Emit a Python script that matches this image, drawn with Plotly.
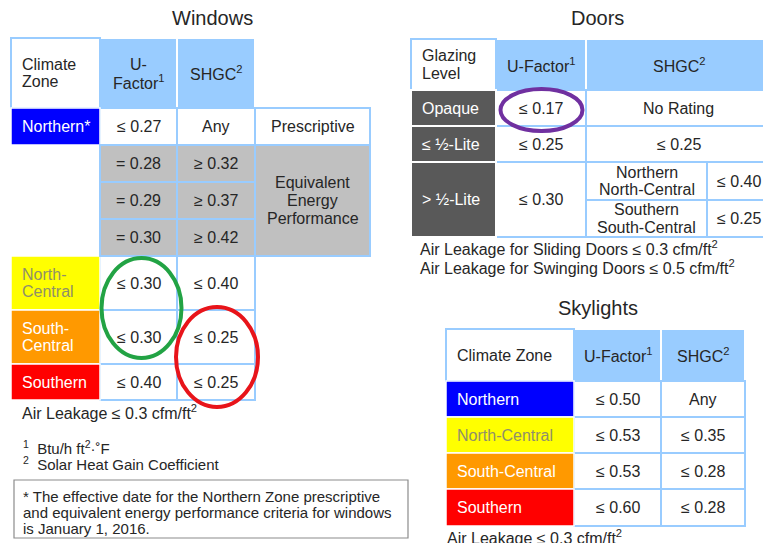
import plotly.graph_objects as go

# ---------------- data ----------------
WINDOW_TITLE = "Windows"
WINDOW_HEADERS = ["Climate<br>Zone", "U-<br>Factor<sup>1</sup>", "SHGC<sup>2</sup>"]
WINDOW_ZONES = ["Northern*", "North-<br>Central", "South-<br>Central", "Southern"]
WINDOW_U = ["≤ 0.27", "≤ 0.30", "≤ 0.30", "≤ 0.40"]
WINDOW_SHGC = ["Any", "≤ 0.40", "≤ 0.25", "≤ 0.25"]
WINDOW_PATHS = ["Prescriptive", "Equivalent<br>Energy<br>Performance"]
WINDOW_EQ_U = ["= 0.28", "= 0.29", "= 0.30"]
WINDOW_EQ_SHGC = ["≥ 0.32", "≥ 0.37", "≥ 0.42"]
WINDOW_NOTES = ["Air Leakage ≤ 0.3 cfm/ft<sup>2</sup>"]
FOOTNOTES = ["<sup>1</sup>  Btu/h ft<sup>2</sup>·˚F", "<sup>2</sup>  Solar Heat Gain Coefficient"]
BOX_NOTE = ["* The effective date for the Northern Zone prescriptive",
            "and equivalent energy performance criteria for windows",
            "is January 1, 2016."]

DOOR_TITLE = "Doors"
DOOR_HEADERS = ["Glazing<br>Level", "U-Factor<sup>1</sup>", "SHGC<sup>2</sup>"]
DOOR_LEVELS = ["Opaque", "≤ ½-Lite", "> ½-Lite"]
DOOR_U = ["≤ 0.17", "≤ 0.25", "≤ 0.30"]
DOOR_SHGC = ["No Rating", "≤ 0.25"]
DOOR_SPLIT_ZONES = ["Northern<br>North-Central", "Southern<br>South-Central"]
DOOR_SPLIT_SHGC = ["≤ 0.40", "≤ 0.25"]
DOOR_NOTES = ["Air Leakage for Sliding Doors ≤ 0.3 cfm/ft<sup>2</sup>",
              "Air Leakage for Swinging Doors ≤ 0.5 cfm/ft<sup>2</sup>"]

SKY_TITLE = "Skylights"
SKY_HEADERS = ["Climate Zone", "U-Factor<sup>1</sup>", "SHGC<sup>2</sup>"]
SKY_ZONES = ["Northern", "North-Central", "South-Central", "Southern"]
SKY_U = ["≤ 0.50", "≤ 0.53", "≤ 0.53", "≤ 0.60"]
SKY_SHGC = ["Any", "≤ 0.35", "≤ 0.28", "≤ 0.28"]
SKY_NOTES = ["Air Leakage ≤ 0.3 cfm/ft<sup>2</sup>"]

# ---------------- styles / layout ----------------
FONT = "Liberation Sans, Arial, sans-serif"
TXT = "#262626"
BORDER = "#99CCFF"
HEAD = "#99CCFF"
GRAY = "#C0C0C0"
DARK = "#595959"
ZONE_FILL = ["#0000FF", "#FFFF00", "#FF9900", "#FF0000"]
ZONE_TXT = ["white", "#8f8f6a", "white", "white"]

W_X = [11, 100, 177, 255, 370]
W_Y = [38, 108, 145, 182, 219, 256, 310, 364, 400]
D_X = [411, 496, 586, 707, 771]
D_Y = [39, 90, 126, 162, 200, 237]
S_X = [446, 574, 661, 745]
S_Y = [329, 381, 417, 453, 489, 526]
NOTE_BOX = [14, 408, 480, 538]

# the page has an 8px body margin: map axis units straight to window pixels
OFF = 8
W, H = 771, 543
fig = go.Figure()
fig.add_trace(go.Scatter(x=[OFF, W], y=[OFF, H], mode="markers",
                         marker=dict(opacity=0), hoverinfo="skip", showlegend=False))
shapes, annots = [], []


def text(x, y, s, size=16, color=TXT, xanchor="center"):
    annots.append(dict(x=x, y=y, xref="x", yref="y", text=s, showarrow=False,
                       xanchor=xanchor, yanchor="middle",
                       font=dict(family=FONT, size=size, color=color)))


def cell(x0, x1, y0, y1, s, fill="white", color=TXT, align="center",
         line=BORDER, lw=2, pad=9, size=16):
    shapes.append(dict(type="rect", xref="x", yref="y", x0=x0, x1=x1, y0=y0, y1=y1,
                       fillcolor=fill, line=dict(color=line, width=lw), layer="below"))
    if not s:
        return
    lines = s.split("<br>")
    n = len(lines)
    lh = size * 1.12
    cy = (y0 + y1) / 2
    for i, ln in enumerate(lines):
        yy = cy + (i - (n - 1) / 2) * lh
        if align == "left":
            text(x0 + pad, yy, ln, size, color, "left")
        else:
            text((x0 + x1) / 2, yy, ln, size, color, "center")


def ellipse(xc, yc, rx, ry, color):
    shapes.append(dict(type="circle", xref="x", yref="y", x0=xc - rx, x1=xc + rx,
                       y0=yc - ry, y1=yc + ry, line=dict(color=color, width=4),
                       layer="above"))


# ---------------- Windows ----------------
text((W_X[0] + W_X[3]) / 2 + 79, 18, WINDOW_TITLE, size=20)
cell(W_X[1], W_X[2], W_Y[0], W_Y[1], WINDOW_HEADERS[1], fill=HEAD, line="white")
cell(W_X[2], W_X[3], W_Y[0], W_Y[1], WINDOW_HEADERS[2], fill=HEAD, line="white")
cell(W_X[0], W_X[1], W_Y[0], W_Y[1], WINDOW_HEADERS[0], align="left")
zone_rows = [1, 5, 6, 7]
for k, r in enumerate(zone_rows):
    cell(W_X[1], W_X[2], W_Y[r], W_Y[r + 1], WINDOW_U[k])
    cell(W_X[2], W_X[3], W_Y[r], W_Y[r + 1], WINDOW_SHGC[k])
    cell(W_X[0], W_X[1], W_Y[r], W_Y[r + 1], WINDOW_ZONES[k], fill=ZONE_FILL[k],
         color=ZONE_TXT[k], align="left", line="white", lw=1.5)
for k in range(3):
    r = 2 + k
    cell(W_X[1], W_X[2], W_Y[r], W_Y[r + 1], WINDOW_EQ_U[k], fill=GRAY)
    cell(W_X[2], W_X[3], W_Y[r], W_Y[r + 1], WINDOW_EQ_SHGC[k], fill=GRAY)
cell(W_X[3], W_X[4], W_Y[1], W_Y[2], WINDOW_PATHS[0])
cell(W_X[3], W_X[4], W_Y[2], W_Y[5], WINDOW_PATHS[1], fill=GRAY)

text(W_X[0] + 9, W_Y[-1] + 12, WINDOW_NOTES[0], size=16, xanchor="left")
text(W_X[0] + 10, W_Y[-1] + 47, FOOTNOTES[0], size=15, xanchor="left")
text(W_X[0] + 10, W_Y[-1] + 63, FOOTNOTES[1], size=15, xanchor="left")
shapes.append(dict(type="rect", xref="x", yref="y", x0=NOTE_BOX[0], x1=NOTE_BOX[1],
                   y0=NOTE_BOX[2], y1=NOTE_BOX[3], fillcolor="white",
                   line=dict(color="#8c8c8c", width=1.2), layer="below"))
for i, ln in enumerate(BOX_NOTE):
    text(NOTE_BOX[0] + 7, NOTE_BOX[2] + 16 + i * 16, ln, size=15, xanchor="left")

# highlight ellipses
ellipse((W_X[1] + W_X[2]) / 2 + 3, W_Y[6] - 2, 40, 50, "#22A344")
ellipse((W_X[2] + W_X[3]) / 2 + 1, W_Y[7] - 7, 41, 50, "#E8141A")

# ---------------- Doors ----------------
text((D_X[0] + D_X[4]) / 2 + 6, 18, DOOR_TITLE, size=20)
cell(D_X[1], D_X[2], D_Y[0], D_Y[1], DOOR_HEADERS[1], fill=HEAD, line="white")
cell(D_X[2], D_X[4], D_Y[0], D_Y[1], DOOR_HEADERS[2], fill=HEAD, line="white")
cell(D_X[0], D_X[1], D_Y[0], D_Y[1], DOOR_HEADERS[0], align="left")
lvl_rows = [(1, 2), (2, 3), (3, 5)]
for k, (a, b) in enumerate(lvl_rows):
    cell(D_X[1], D_X[2], D_Y[a], D_Y[b], DOOR_U[k])
    if k < 2:
        cell(D_X[2], D_X[4], D_Y[a], D_Y[b], DOOR_SHGC[k])
for k in range(2):
    cell(D_X[2], D_X[3], D_Y[3 + k], D_Y[4 + k], DOOR_SPLIT_ZONES[k])
    cell(D_X[3], D_X[4], D_Y[3 + k], D_Y[4 + k], DOOR_SPLIT_SHGC[k])
for k, (a, b) in enumerate(lvl_rows):
    cell(D_X[0], D_X[1], D_Y[a], D_Y[b], DOOR_LEVELS[k], fill=DARK, color="white",
         align="left", line="white", lw=2)
for i, ln in enumerate(DOOR_NOTES):
    text(D_X[0] + 7, D_Y[-1] + 11 + i * 19, ln, size=16, xanchor="left")
ellipse((D_X[1] + D_X[2]) / 2 + 0.5, (D_Y[1] + D_Y[2]) / 2 + 2, 41, 21, "#7030A0")

# ---------------- Skylights ----------------
text((S_X[0] + S_X[3]) / 2 + 2, 308, SKY_TITLE, size=20)
cell(S_X[1], S_X[2], S_Y[0], S_Y[1], SKY_HEADERS[1], fill=HEAD, line="white")
cell(S_X[2], S_X[3], S_Y[0], S_Y[1], SKY_HEADERS[2], fill=HEAD, line="white")
cell(S_X[0], S_X[1], S_Y[0], S_Y[1], SKY_HEADERS[0], align="left")
for k in range(4):
    cell(S_X[1], S_X[2], S_Y[k + 1], S_Y[k + 2], SKY_U[k])
    cell(S_X[2], S_X[3], S_Y[k + 1], S_Y[k + 2], SKY_SHGC[k])
    cell(S_X[0], S_X[1], S_Y[k + 1], S_Y[k + 2], SKY_ZONES[k], fill=ZONE_FILL[k],
         color=ZONE_TXT[k], align="left", line="white", lw=1.5)
text(S_X[0] - 1, S_Y[-1] + 11, SKY_NOTES[0], size=16, xanchor="left")

fig.update_layout(
    width=W - OFF, height=H - OFF, margin=dict(l=0, r=0, t=0, b=0),
    paper_bgcolor="white", plot_bgcolor="white",
    xaxis=dict(range=[OFF, W], visible=False, fixedrange=True),
    yaxis=dict(range=[H, OFF], visible=False, fixedrange=True),
    shapes=shapes, annotations=annots, showlegend=False,
)
fig.write_html("out.html", config={"displayModeBar": False})
